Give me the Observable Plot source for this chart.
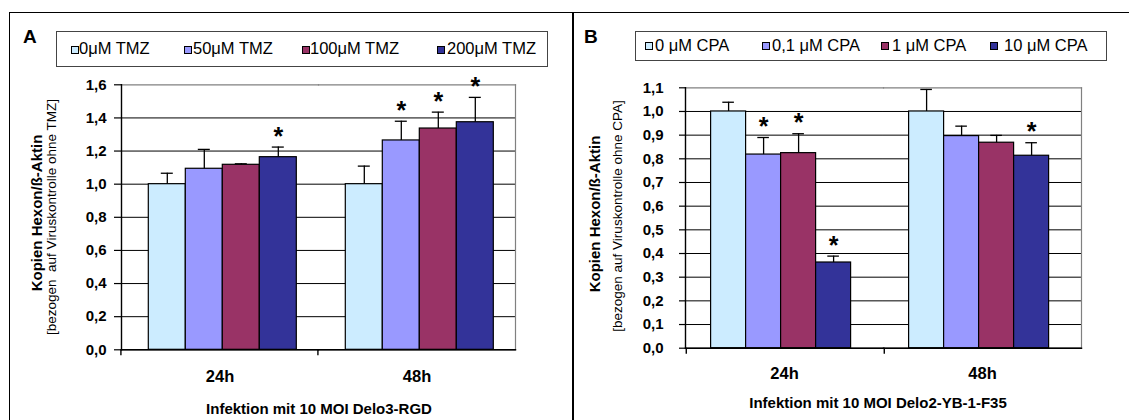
<!DOCTYPE html>
<html>
<head>
<meta charset="utf-8">
<script src="https://cdn.jsdelivr.net/npm/d3@7"></script>
<script src="https://cdn.jsdelivr.net/npm/@observablehq/plot@0.6"></script>
<style>
  html, body { margin: 0; padding: 0; background: #fff; }
  #wrap { position: relative; width: 1129px; height: 420px; overflow: hidden; background: #fff;
          font-family: "Liberation Sans", Arial, sans-serif; color: #000; }
  .abs { position: absolute; white-space: pre; line-height: 1; }
  .panel { position: absolute; top: 0; }
  .letter { font-size: 19px; font-weight: bold; }
  .legbox { position: absolute; border: 1px solid #444; box-sizing: border-box; background: #fff; }
  .sw { position: absolute; width: 8px; height: 8px; border: 1px solid #000; box-sizing: border-box; }
  .legtxt { font-size: 16.5px; }
  .ytitle-b { font-size: 15px; font-weight: bold; transform: translate(-50%, -50%) rotate(-90deg); }
  .ytitle-r { font-size: 13.5px; transform: translate(-50%, -50%) rotate(-90deg); }
  .xtitle { font-size: 15px; font-weight: bold; transform: translateX(-50%); }
</style>
</head>
<body>
<div id="wrap"></div>
<script>
// ---------- data ----------
const times = ["24h", "48h"];
const colors = ["#CCECFF", "#9999FF", "#993366", "#333399"];

// Panel A (TMZ)
const dosesA = ["0μM TMZ", "50μM TMZ", "100μM TMZ", "200μM TMZ"];
const valuesA24 = [1.0, 1.093, 1.117, 1.163];
const errA24    = [1.066, 1.21, 1.123, 1.224];
const sigA24    = [false, false, false, true];
const valuesA48 = [1.0, 1.264, 1.336, 1.374];
const errA48    = [1.109, 1.38, 1.435, 1.524];
const sigA48    = [false, true, true, true];
const ticksA = [0, 0.2, 0.4, 0.6, 0.8, 1.0, 1.2, 1.4, 1.6];

// Panel B (CPA)
const dosesB = ["0 μM CPA", "0,1 μM CPA", "1 μM CPA", "10 μM CPA"];
const valuesB24 = [1.0, 0.818, 0.824, 0.362];
const errB24    = [1.039, 0.890, 0.906, 0.389];
const sigB24    = [false, true, true, true];
const valuesB48 = [1.0, 0.896, 0.868, 0.813];
const errB48    = [1.093, 0.938, 0.899, 0.868];
const sigB48    = [false, false, false, true];
const ticksB = [0, 0.1, 0.2, 0.3, 0.4, 0.5, 0.6, 0.7, 0.8, 0.9, 1.0, 1.1];

const ylabelBold = "Kopien Hexon/ß-Aktin";
const ylabelA = "[bezogen  auf Viruskontrolle ohne TMZ]";
const ylabelB = "[bezogen auf Viruskontrolle ohne CPA]";
const xtitleA = "Infektion mit 10 MOI Delo3-RGD";
const xtitleB = "Infektion mit 10 MOI Delo2-YB-1-F35";

function rows(doses, v24, e24, s24, v48, e48, s48) {
  const out = [];
  doses.forEach((d, i) => out.push({time: "24h", dose: d, value: v24[i], err: e24[i], sig: s24[i]}));
  doses.forEach((d, i) => out.push({time: "48h", dose: d, value: v48[i], err: e48[i], sig: s48[i]}));
  return out;
}
const rowsA = rows(dosesA, valuesA24, errA24, sigA24, valuesA48, errA48, sigA48);
const rowsB = rows(dosesB, valuesB24, errB24, sigB24, valuesB48, errB48, sigB48);

const fmt = d => d.toFixed(1).replace(".", ",");

function panel(cfg) {
  const {data, doses, ticks, ymax, width, mL, mR, mT, mB, padOuter, align, capInset, tickSize, tickPadding, fxPad} = cfg;
  // left edge of each category (for Excel-style category separator ticks)
  const facetW = (width - mL - mR) / times.length;
  const step = facetW / (doses.length + 2 * padOuter);
  const edgeDx = -(align * 2 * padOuter * step + step / 2);
  return Plot.plot({
    width, height: 420,
    marginLeft: mL, marginRight: mR, marginTop: mT, marginBottom: mB,
    style: {fontFamily: "Liberation Sans, Arial, sans-serif", background: "transparent", color: "#000", overflow: "visible"},
    fx: {domain: times, padding: 0, label: null},
    x: {domain: doses, paddingInner: 0, paddingOuter: padOuter, align, axis: null},
    y: {domain: [0, ymax], label: null},
    color: {domain: doses, range: colors},
    marks: [
      Plot.ruleY(ticks.filter(t => t < ymax), {stroke: "#000", strokeWidth: 1}),
      Plot.frame({anchor: "top", stroke: "#808080", strokeWidth: 1.2}),
      Plot.frame({anchor: "right", facetAnchor: "right", stroke: "#808080", strokeWidth: 1.2}),
      Plot.barY(data, {fx: "time", x: "dose", y: "value", fill: "dose", stroke: "#000", strokeWidth: 1.2}),
      Plot.ruleX(data, {fx: "time", x: "dose", y1: "value", y2: "err", stroke: "#000", strokeWidth: 1.3}),
      Plot.tickY(data, {fx: "time", x: "dose", y: "err", insetLeft: capInset, insetRight: capInset, stroke: "#000", strokeWidth: 1.3}),
      Plot.text(data.filter(d => d.sig), {fx: "time", x: "dose", y: "err", text: () => "*", lineAnchor: "bottom", dy: -2.5, fontSize: 25, fontWeight: "bold", fill: "#000"}),
      Plot.axisY({ticks, tickFormat: fmt, tickSize, tickPadding, fontSize: 15, fontWeight: "bold", label: null, stroke: "#000", strokeWidth: 1.2}),
      Plot.frame({anchor: "left", facetAnchor: "left", stroke: "#000", strokeWidth: 1.4}),
      Plot.frame({anchor: "bottom", stroke: "#000", strokeWidth: 1.4}),
      Plot.ruleX(times, {fx: d => d, x: () => doses[0], y1: 0, y2: 0, insetBottom: -6, dx: edgeDx, stroke: "#000", strokeWidth: 1.4}),
      Plot.axisFx({anchor: "bottom", tickSize: 0, tickPadding: fxPad, fontSize: 16.5, fontWeight: "bold", label: null})
    ]
  });
}

const wrap = document.getElementById("wrap");
function addEl(cls, css, text) {
  const el = document.createElement("div");
  el.className = cls;
  Object.assign(el.style, css);
  if (text !== undefined) el.textContent = text;
  wrap.appendChild(el);
  return el;
}

// frame lines
addEl("abs", {left: "8.5px", top: "11.5px", width: "1125px", height: "420px", borderTop: "1.5px solid #000", borderLeft: "1.5px solid #000"});
addEl("abs", {left: "572px", top: "12px", width: "1.5px", height: "410px", background: "#000"});

// panels
const svgA = panel({data: rowsA, doses: dosesA, ticks: ticksA, ymax: 1.6, width: 565,
  mL: 120.7, mR: 49, mT: 84.3, mB: 70.7, padOuter: 0.66, align: 0.567, capInset: 12.5, tickSize: 7, tickPadding: 8, fxPad: 20.5});
const pA = document.createElement("div"); pA.className = "panel"; pA.style.left = "0px"; pA.appendChild(svgA); wrap.appendChild(pA);

const svgB = panel({data: rowsB, doses: dosesB, ticks: ticksB, ymax: 1.1, width: 564,
  mL: 119.4, mR: 47.3, mT: 87.3, mB: 72.3, padOuter: 0.79, align: 0.436, capInset: 11.7, tickSize: 6, tickPadding: 16, fxPad: 19});
const pB = document.createElement("div"); pB.className = "panel"; pB.style.left = "565px"; pB.appendChild(svgB); wrap.appendChild(pB);

// panel letters
addEl("abs letter", {left: "23px", top: "26.5px"}, "A");
addEl("abs letter", {left: "584px", top: "26.5px"}, "B");

// legends
addEl("legbox", {left: "56px", top: "30.7px", width: "491.5px", height: "36px"});
const swA = [71, 184, 302, 437], txA = [79, 193, 310, 447];
dosesA.forEach((d, i) => {
  addEl("sw", {left: swA[i] + "px", top: "45.5px", background: colors[i]});
  addEl("abs legtxt", {left: txA[i] + "px", top: "40px"}, d);
});
addEl("legbox", {left: "635px", top: "30.7px", width: "471.5px", height: "30.5px"});
const swB = [645, 762, 881, 990], txB = [655, 772, 892, 1004];
dosesB.forEach((d, i) => {
  addEl("sw", {left: swB[i] + "px", top: "41.5px", background: colors[i]});
  addEl("abs legtxt", {left: txB[i] + "px", top: "37px"}, d);
});

// y titles
addEl("abs ytitle-b", {left: "36px", top: "213px"}, ylabelBold);
addEl("abs ytitle-r", {left: "52px", top: "217px"}, ylabelA);
addEl("abs ytitle-b", {left: "594px", top: "214px"}, ylabelBold);
addEl("abs ytitle-r", {left: "618px", top: "216px"}, ylabelB);

// x titles
addEl("abs xtitle", {left: "319px", top: "400.5px"}, xtitleA);
addEl("abs xtitle", {left: "878px", top: "394.5px"}, xtitleB);
</script>
</body>
</html>
